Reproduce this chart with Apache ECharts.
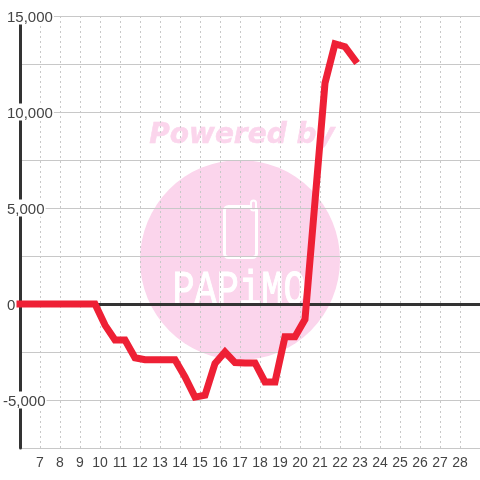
<!DOCTYPE html>
<html>
<head>
<meta charset="utf-8">
<style>
html, body { margin: 0; padding: 0; background: #fff; }
#chart { width: 480px; height: 480px; }
</style>
<script src="https://cdn.jsdelivr.net/npm/echarts@6/dist/echarts.min.js"></script>
</head>
<body>
<div id="chart"></div>
<script>
var days = [6, 9.75, 10.25, 10.75, 11.25, 11.75, 12.25, 12.75, 13.25, 13.75, 14.25, 14.75, 15.25, 15.75, 16.25, 16.75, 17.25, 17.75, 18.25, 18.75, 19.25, 19.75, 20.25, 20.75, 21.25, 21.75, 22.25, 22.75];
var balance = [0, 0, -1100, -1875, -1875, -2800, -2900, -2900, -2900, -2900, -3800, -4850, -4750, -3100, -2500, -3050, -3070, -3070, -4060, -4060, -1700, -1700, -800, 5350, 11500, 13550, 13400, 12700];

var linePoints = days.map(function (d, i) {
    return [d, balance[i]];
});

var gridColor = '#c8c8c8';
var textColor = '#444';
var wmColor = '#fbd5ec';

var ecc = echarts.init(document.getElementById('chart'), null, { renderer: 'canvas' });

function yLabel(v) {
    if (v % 5000 !== 0) {
        return '';
    }
    var s = Math.abs(v).toString().replace(/\B(?=(\d{3})+$)/g, ',');
    return v < 0 ? '{neg|-' + s + '}' : '{pos|' + s + '}';
}

var labelBox = {
    fontFamily: 'Liberation Sans',
    fontSize: 15,
    color: textColor,
    backgroundColor: '#fff',
    height: 14,
    lineHeight: 14
};

ecc.setOption({
    animation: false,
    backgroundColor: '#fff',
    grid: { left: 20, right: 0, top: 16, bottom: 32, containLabel: false },
    xAxis: [{
        type: 'value',
        min: 6,
        max: 29,
        interval: 1,
        axisLine: { show: false, onZero: false },
        axisTick: { show: false },
        axisLabel: {
            showMinLabel: false,
            showMaxLabel: false,
            fontFamily: 'Liberation Sans',
            fontSize: 14,
            color: textColor,
            margin: 8
        },
        splitLine: { lineStyle: { color: gridColor, type: [2, 3], width: 1 } }
    }, {
        // 0 line only, no labels
        type: 'value',
        min: 6,
        max: 29,
        interval: 1,
        axisLine: { show: true, onZero: true, lineStyle: { color: '#333', width: 3 } },
        axisTick: { show: false },
        axisLabel: { show: false },
        splitLine: { show: false }
    }],
    yAxis: {
        type: 'value',
        min: -7500,
        max: 15000,
        interval: 2500,
        axisLine: { show: true, lineStyle: { color: '#333', width: 3 } },
        axisTick: { show: false },
        axisLabel: {
            margin: 17,
            align: 'left',
            formatter: yLabel,
            rich: {
                pos: Object.assign({}, labelBox, { padding: [3, 1, 0, 4] }),
                neg: Object.assign({}, labelBox, { padding: [3, 1, 0, 0] })
            }
        },
        splitLine: { lineStyle: { color: gridColor, width: 1 } }
    },
    graphic: [
        { type: 'circle', z: -10, shape: { cx: 240, cy: 260, r: 100 }, style: { fill: wmColor } },
        {
            type: 'text', z: -10, x: 242, y: 136,
            style: {
                text: 'Powered by',
                fill: wmColor,
                stroke: wmColor,
                lineWidth: 0.5,
                font: 'italic bold 28px "DejaVu Sans"',
                align: 'center',
                verticalAlign: 'middle'
            }
        },
        {
            type: 'rect', z: -9,
            shape: { x: 224.5, y: 206.5, width: 32, height: 51, r: 4 },
            style: { fill: 'none', stroke: '#fff', lineWidth: 3 }
        },
        {
            type: 'rect', z: -9,
            shape: { x: 251, y: 200.5, width: 5, height: 10, r: 2.5 },
            style: { fill: wmColor, stroke: '#fff', lineWidth: 2 }
        },
        {
            type: 'text', z: -9, x: 239, y: 291, scaleY: 1.3,
            style: {
                text: 'PAPiMO',
                fill: '#fff',
                stroke: '#fff',
                lineWidth: 0.8,
                font: '37px "Liberation Mono"',
                align: 'center',
                verticalAlign: 'middle'
            }
        }
    ],
    series: [{
        type: 'line',
        xAxisIndex: 0,
        data: linePoints,
        showSymbol: false,
        smooth: false,
        clip: false,
        lineStyle: { color: '#ee2035', width: 7, cap: 'square', join: 'miter' }
    }]
});
</script>
</body>
</html>
